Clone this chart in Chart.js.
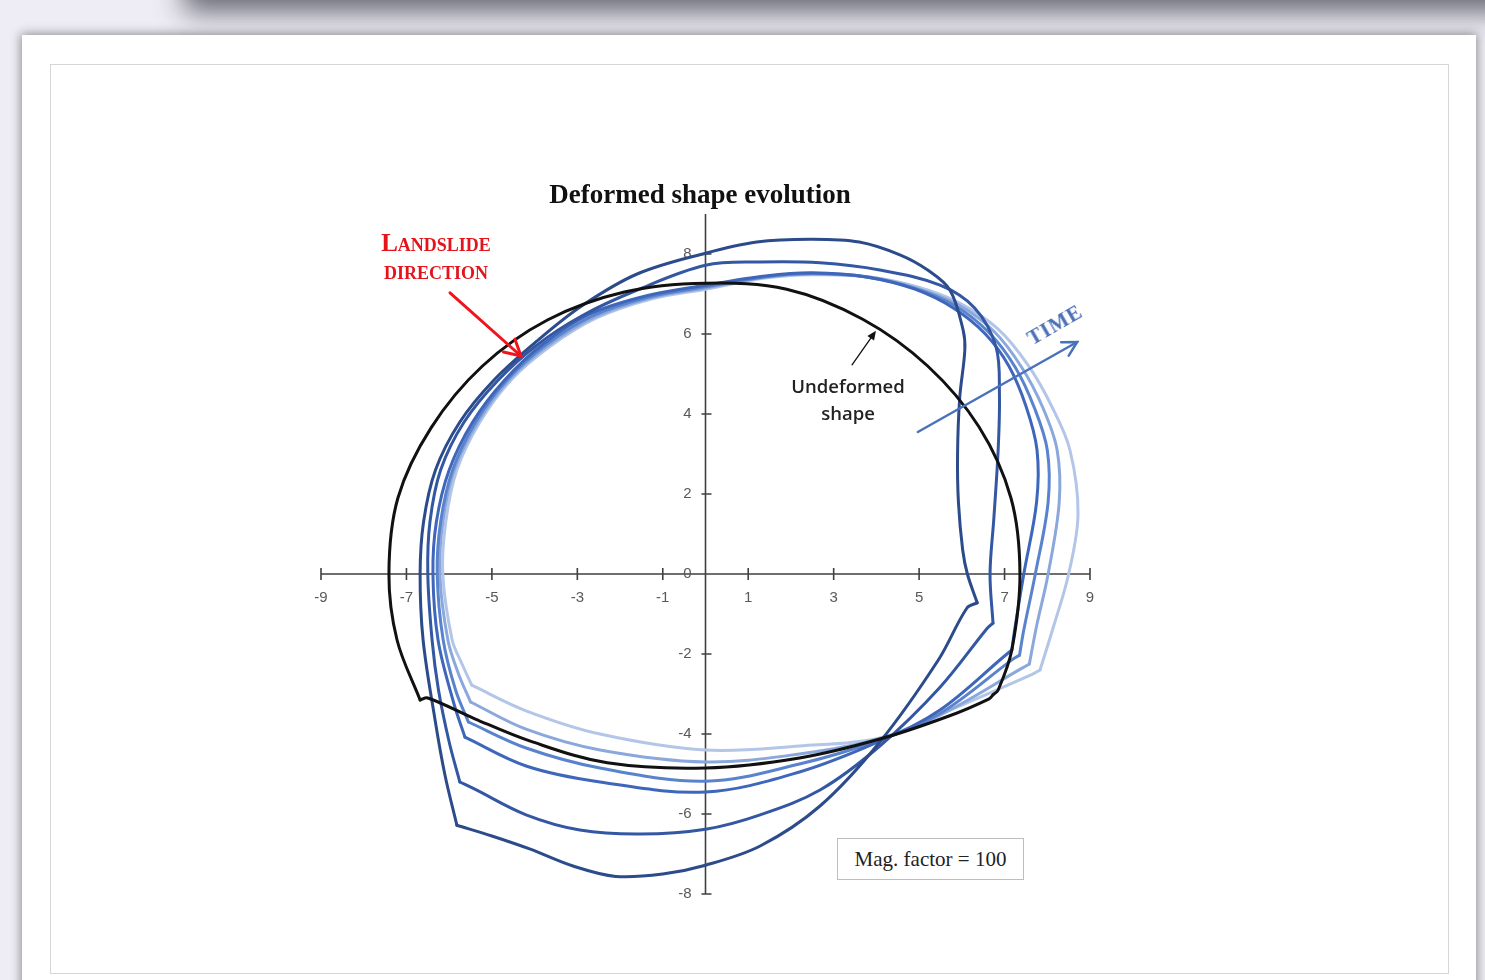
<!DOCTYPE html>
<html>
<head>
<meta charset="utf-8">
<title>Deformed shape evolution</title>
<script src="https://cdn.jsdelivr.net/npm/chart.js@4.4.1/dist/chart.umd.min.js"></script>
<style>
html,body{margin:0;padding:0;width:1485px;height:980px;overflow:hidden;background:#eeedf5;}
#topShadow{position:absolute;left:190px;top:-60px;width:1400px;height:60px;background:#e4e3ec;box-shadow:0 6px 28px 6px rgba(70,70,80,.8);}
#card{position:absolute;left:22px;top:35px;width:1454px;height:990px;background:#fff;box-shadow:0 0 10px 1px rgba(0,0,0,.42);}
#frame{position:absolute;left:50px;top:64px;width:1397px;height:908px;border:1px solid #d6d6d6;}
#chart{position:absolute;left:0;top:0;}
.note{position:absolute;white-space:nowrap;transform:translate(-50%,-50%);text-align:center;}
#title{left:700px;top:194px;font:bold 27px "Liberation Serif";color:#111;}
#landslide{left:436px;top:257px;font:bold 25px "Liberation Serif";font-variant:small-caps;color:#e3141c;line-height:28px;}
#undeformed{left:848px;top:399px;font:600 18.5px "Open Sans";color:#222;line-height:27px;}
#time{left:1055px;top:325px;font:bold 21px "Liberation Serif";color:#4a6fb6;letter-spacing:1px;transform:translate(-50%,-50%) rotate(-30deg);}
#mag{position:absolute;left:837px;top:838px;width:185px;height:40px;border:1px solid #bdbdbd;background:#fff;font:21px "Liberation Serif";color:#222;line-height:40px;text-align:center;}
</style>
</head>
<body>
<div id="topShadow"></div>
<div id="card"></div>
<div id="frame"></div>
<canvas id="chart" width="1485" height="980"></canvas>
<div class="note" id="title">Deformed shape evolution</div>
<div class="note" id="landslide">Landslide<br>direction</div>
<div class="note" id="undeformed">Undeformed<br>shape</div>
<div class="note" id="time">TIME</div>
<div id="mag">Mag. factor = 100</div>
<script>
// axis ticks
const xTicks = [-9, -7, -5, -3, -1, 1, 3, 5, 7, 9]
const yTicks = [-8, -6, -4, -2, 0, 2, 4, 6, 8]

// undeformed section, [x, y] in magnified units
const undeformedUpper = [[-6.68,-3.15],[-7.22,-1.65],[-7.41,0],[-7.2,1.9],[-6.42,3.66],[-5.22,5.2],[-3.7,6.35],[-1.9,7.05],[0,7.27],[1.9,7.12],[3.68,6.37],[5.2,5.2],[6.4,3.68],[7.15,1.9],[7.36,0],[7.17,-1.9],[6.85,-2.9],[6.73,-3.02]]
const undeformedLower = [[6.73,-3.02],[6.64,-3.12],[5.7,-3.55],[4.1,-4.12],[2.2,-4.6],[0,-4.85],[-2.3,-4.72],[-4.1,-4.18],[-5.4,-3.62],[-6.5,-3.1],[-6.68,-3.15]]

// deformed sections, oldest (dark) to newest (light)
const step1Upper = [[-5.82,-6.28],[-6.1,-5.02],[-6.33,-3.65],[-6.61,-1.65],[-6.68,0],[-6.6,1.3],[-6.32,2.6],[-5.75,3.8],[-4.95,4.85],[-3.95,5.82],[-2.9,6.7],[-1.6,7.5],[0,8.02],[1.2,8.3],[2.45,8.37],[3.6,8.3],[4.55,7.98],[5.2,7.6],[5.72,7.1],[6.03,6.1],[6.07,5.6],[5.95,4.4],[5.9,3.0],[5.92,1.8],[6.02,0.6],[6.13,0],[6.36,-0.72]]
const step1Lower = [[6.36,-0.72],[6.12,-0.85],[5.45,-2.15],[4.08,-4.2],[2.68,-5.8],[1.28,-6.8],[0,-7.28],[-1.0,-7.5],[-2.1,-7.56],[-3.1,-7.3],[-4.1,-6.88],[-5.0,-6.55],[-5.82,-6.28]]
const step2Upper = [[-5.75,-5.2],[-6.0,-4.2],[-6.25,-2.9],[-6.4,-1.65],[-6.5,0],[-6.45,1.3],[-6.2,2.6],[-5.65,3.8],[-4.85,4.85],[-3.95,5.72],[-2.9,6.45],[-1.6,7.1],[0,7.72],[1.28,7.8],[2.68,7.78],[4.08,7.6],[5.49,7.22],[6.3,6.65],[6.8,5.68],[6.88,4.5],[6.85,3.1],[6.75,1.4],[6.66,0],[6.73,-1.23]]
const step2Lower = [[6.73,-1.23],[6.6,-1.35],[5.49,-2.83],[4.08,-4.3],[2.68,-5.4],[1.28,-6.02],[0,-6.38],[-1.53,-6.5],[-2.94,-6.4],[-4.2,-6.02],[-5.4,-5.38],[-5.75,-5.2]]
const step3Upper = [[-5.63,-4.08],[-5.9,-3.2],[-6.26,-1.65],[-6.38,0],[-6.3,1.3],[-6.0,2.6],[-5.45,3.8],[-4.7,4.85],[-3.8,5.75],[-2.7,6.5],[-1.4,6.95],[0,7.22],[1.4,7.45],[2.5,7.53],[3.8,7.42],[4.9,7.12],[5.8,6.65],[6.55,6.0],[7.1,5.2],[7.5,4.2],[7.76,3.1],[7.75,1.8],[7.45,0],[7.25,-1.3],[7.17,-1.9]]
const step3Lower = [[7.17,-1.9],[7.0,-2.05],[5.49,-3.4],[4.08,-4.18],[2.2,-4.95],[0,-5.45],[-2.47,-5.2],[-4.2,-4.8],[-5.63,-4.08]]
const step4Upper = [[-5.55,-3.7],[-5.85,-2.9],[-6.14,-1.65],[-6.28,0],[-6.2,1.3],[-5.92,2.6],[-5.38,3.8],[-4.65,4.85],[-3.75,5.72],[-2.65,6.45],[-1.35,6.92],[0,7.18],[1.4,7.43],[2.5,7.51],[3.8,7.42],[4.9,7.14],[5.85,6.7],[6.65,6.02],[7.25,5.17],[7.7,4.15],[8.0,3.1],[8.02,1.8],[7.72,0],[7.45,-1.4],[7.35,-2.03]]
const step4Lower = [[7.35,-2.03],[7.18,-2.14],[5.5,-3.48],[4.08,-4.15],[2.2,-4.75],[0,-5.18],[-2.47,-4.85],[-4.2,-4.35],[-5.55,-3.7]]
const step5Upper = [[-5.5,-3.2],[-5.78,-2.5],[-6.03,-1.65],[-6.22,0],[-6.15,1.3],[-5.88,2.6],[-5.33,3.8],[-4.6,4.85],[-3.7,5.7],[-2.6,6.42],[-1.3,6.9],[0,7.15],[1.4,7.42],[2.5,7.5],[3.8,7.43],[4.9,7.16],[5.9,6.74],[6.75,6.07],[7.4,5.17],[7.9,4.15],[8.23,3.1],[8.28,1.8],[8.02,0],[7.75,-1.3],[7.58,-2.25]]
const step5Lower = [[7.58,-2.25],[7.4,-2.36],[5.5,-3.52],[4.08,-4.12],[2.2,-4.5],[0,-4.7],[-2.47,-4.4],[-4.2,-3.88],[-5.5,-3.2]]
const step6Upper = [[-5.47,-2.78],[-5.72,-2.2],[-5.93,-1.65],[-6.15,0],[-6.08,1.3],[-5.82,2.6],[-5.28,3.8],[-4.55,4.85],[-3.65,5.68],[-2.55,6.4],[-1.25,6.88],[0,7.12],[1.4,7.4],[2.5,7.48],[3.8,7.43],[4.95,7.18],[5.95,6.77],[6.85,6.12],[7.55,5.22],[8.1,4.2],[8.53,3.1],[8.72,1.5],[8.5,0],[8.15,-1.3],[7.83,-2.4]]
const step6Lower = [[7.83,-2.4],[7.62,-2.52],[5.5,-3.5],[4.08,-4.1],[2.2,-4.3],[0,-4.4],[-2.47,-4.0],[-4.2,-3.42],[-5.47,-2.78]]

const undeformedColor = '#111111'
const stepColors = ['#2c4b8b', '#3357a2', '#3e66ba', '#5a83cd', '#8ba8dc', '#b3c6e8']
const axisColor = '#404040'
const labelColor = '#595959'

// annotation arrows, from -> to in axis units
const arrows = [
	{ from: [-5.98, 7.03], to: [-4.32, 5.45], color: '#f0141c', width: 3, head: 18, open: true },
	{ from: [3.43, 5.23], to: [3.99, 6.08], color: '#111', width: 1.3, head: 10, open: false },
	{ from: [4.97, 3.55], to: [8.7, 5.8], color: '#4a72bb', width: 2.5, head: 16, open: true }
]

let toPoints = arr => arr.map(p => ({ x: p[0], y: p[1] }))

let section = (label, pts, color) => ({
	label: label,
	data: toPoints(pts),
	showLine: true,
	borderColor: color,
	borderWidth: 3,
	pointRadius: 0,
	tension: 0.35,
	borderCapStyle: 'round',
	borderJoinStyle: 'round',
	fill: false
})

let datasets = [
	section('Undeformed', undeformedUpper, undeformedColor),
	section('Undeformed', undeformedLower, undeformedColor)
]
const steps = [[step1Upper, step1Lower], [step2Upper, step2Lower], [step3Upper, step3Lower],
	[step4Upper, step4Lower], [step5Upper, step5Lower], [step6Upper, step6Lower]]
steps.forEach((s, i) => {
	datasets.push(section('Step ' + (i + 1), s[0], stepColors[i]))
	datasets.push(section('Step ' + (i + 1), s[1], stepColors[i]))
})

let crossAxes = {
	id: 'crossAxes',
	beforeDatasetsDraw: chart => {
		let ctx = chart.ctx, xs = chart.scales.x, ys = chart.scales.y
		let x0 = xs.getPixelForValue(0), y0 = ys.getPixelForValue(0)
		ctx.save()
		ctx.strokeStyle = axisColor
		ctx.lineWidth = 1.6
		ctx.beginPath()
		ctx.moveTo(xs.getPixelForValue(xs.min), y0)
		ctx.lineTo(xs.getPixelForValue(xs.max), y0)
		ctx.moveTo(x0, ys.getPixelForValue(ys.min))
		ctx.lineTo(x0, ys.getPixelForValue(ys.max))
		xTicks.forEach(v => {
			let px = xs.getPixelForValue(v)
			ctx.moveTo(px, y0 - 6)
			ctx.lineTo(px, y0 + 6)
		})
		yTicks.forEach(v => {
			if (v === 0) return
			let py = ys.getPixelForValue(v)
			ctx.moveTo(x0 - 4, py)
			ctx.lineTo(x0 + 6, py)
		})
		ctx.stroke()
		ctx.fillStyle = labelColor
		ctx.font = '15px "Liberation Sans"'
		ctx.textAlign = 'center'
		ctx.textBaseline = 'middle'
		xTicks.forEach(v => ctx.fillText(String(v), xs.getPixelForValue(v), y0 + 24))
		ctx.textAlign = 'right'
		yTicks.forEach(v => ctx.fillText(String(v), x0 - 14, ys.getPixelForValue(v)))
		ctx.restore()
	}
}

let notesArrows = {
	id: 'notesArrows',
	afterDatasetsDraw: chart => {
		let ctx = chart.ctx, xs = chart.scales.x, ys = chart.scales.y
		arrows.forEach(a => {
			let x1 = xs.getPixelForValue(a.from[0]), y1 = ys.getPixelForValue(a.from[1])
			let x2 = xs.getPixelForValue(a.to[0]), y2 = ys.getPixelForValue(a.to[1])
			let ang = Math.atan2(y2 - y1, x2 - x1)
			let spread = a.open ? 0.5 : 0.42
			let hx1 = x2 - a.head * Math.cos(ang - spread), hy1 = y2 - a.head * Math.sin(ang - spread)
			let hx2 = x2 - a.head * Math.cos(ang + spread), hy2 = y2 - a.head * Math.sin(ang + spread)
			ctx.save()
			ctx.strokeStyle = a.color
			ctx.fillStyle = a.color
			ctx.lineWidth = a.width
			ctx.lineCap = 'round'
			ctx.lineJoin = 'miter'
			ctx.beginPath()
			ctx.moveTo(x1, y1)
			ctx.lineTo(a.open ? x2 : x2 - a.head * 0.8 * Math.cos(ang), a.open ? y2 : y2 - a.head * 0.8 * Math.sin(ang))
			ctx.stroke()
			ctx.beginPath()
			ctx.moveTo(hx1, hy1)
			ctx.lineTo(x2, y2)
			ctx.lineTo(hx2, hy2)
			if (a.open) {
				ctx.stroke()
			} else {
				ctx.closePath()
				ctx.fill()
			}
			ctx.restore()
		})
	}
}

new Chart(document.getElementById('chart'), {
	type: 'scatter',
	data: { datasets: datasets },
	options: {
		responsive: false,
		devicePixelRatio: 1,
		animation: false,
		layout: { padding: { left: 321, right: 395, top: 214, bottom: 86 } },
		scales: {
			x: { type: 'linear', min: -9, max: 9, display: false },
			y: { type: 'linear', min: -8, max: 9, display: false }
		},
		plugins: {
			legend: { display: false },
			tooltip: { enabled: false },
			title: { display: false }
		}
	},
	plugins: [crossAxes, notesArrows]
})
</script>
</body>
</html>
